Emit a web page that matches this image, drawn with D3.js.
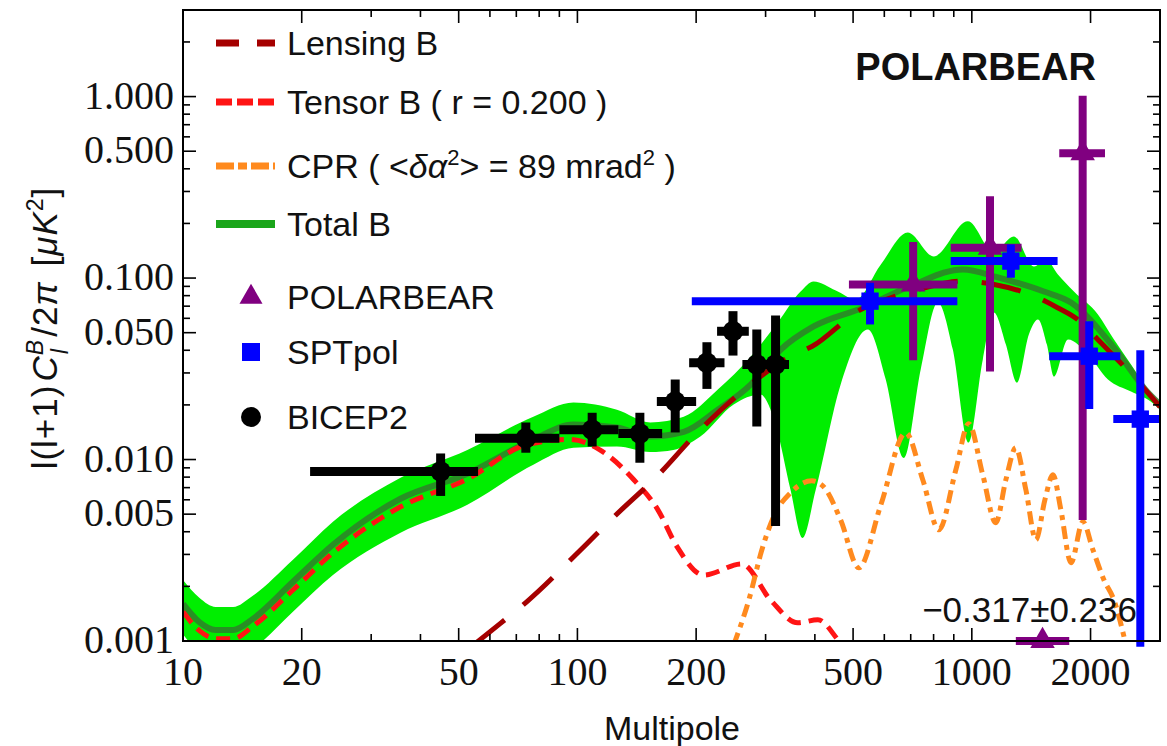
<!DOCTYPE html>
<meta charset="utf-8">
<style>
body { margin: 0; background: #fff; }
text { font-family: "Liberation Sans", Arial, sans-serif; fill: #111; }
.tk { font-family: "Liberation Serif", "Times New Roman", serif; font-size: 40px; }
</style>
<svg width="1167" height="746"></svg>
<script src="https://d3js.org/d3.v7.min.js"></script>
<script>

// ---- data (multipole l, value in uK^2) ----
var tensorL = [10, 11.0, 12.1, 13.4, 15.0, 19.0, 24.0, 35.6, 52.6, 74.7, 96.0, 114, 139, 160, 179, 209, 261, 309, 362, 407, 460, 520];
var tensorV = [0.00145, 0.00114, 0.00103, 0.00103, 0.0012, 0.00191, 0.00306, 0.00549, 0.0078, 0.0121, 0.0129, 0.0113, 0.00774, 0.00528, 0.0033, 0.00231, 0.00266, 0.00168, 0.00126, 0.00131, 0.001, 0.0007];

var lensL = [54.5, 63.8, 74.5, 106, 124, 159, 201, 262, 347, 394, 523, 623, 757, 947, 1139, 1439, 1650, 1855, 2126, 2847, 3000];
var lensV = [0.00095, 0.00125, 0.00165, 0.00346, 0.00485, 0.00807, 0.0140, 0.0238, 0.0371, 0.0421, 0.0671, 0.0779, 0.0884, 0.0961, 0.0922, 0.0795, 0.0686, 0.0591, 0.0440, 0.0223, 0.0195];

var cprL = [249, 272, 295, 318, 347, 393, 421, 465, 517, 588, 680, 751, 825, 911, 982, 1066, 1150, 1220, 1293, 1371, 1454, 1532, 1606, 1682, 1784, 1912, 2028, 2163, 2293, 2460];
var cprV = [0.00095, 0.00168, 0.0033, 0.00509, 0.00656, 0.00764, 0.00708, 0.00465, 0.00253, 0.00563, 0.01405, 0.00774, 0.0041, 0.00878, 0.01576, 0.00824, 0.00448, 0.00774, 0.01162, 0.00681, 0.00361, 0.0060, 0.00824, 0.00528, 0.0027, 0.00454, 0.00318, 0.00217, 0.00168, 0.00095];

var totalL = [10, 11.0, 12.1, 13.4, 15.0, 19.0, 24.0, 35.6, 52.6, 77.3, 97.7, 126, 153, 186, 227, 275, 328, 397, 532, 713, 949, 1164, 1523, 1784, 2293, 2797, 3000];
var totalV = [0.0016, 0.00127, 0.00115, 0.00115, 0.00132, 0.00212, 0.00339, 0.00608, 0.00835, 0.0129, 0.0156, 0.0150, 0.0134, 0.0142, 0.0188, 0.0259, 0.0404, 0.0541, 0.0688, 0.0922, 0.1116, 0.1008, 0.0843, 0.0733, 0.0414, 0.0234, 0.0201];

var bandUpL = [10, 11.0, 12.1, 13.4, 15.0, 19.0, 24.0, 35.6, 52.6, 77.3, 97.7, 126, 153, 186, 227, 275, 322, 368, 397, 452, 508, 588, 688, 801, 977, 1137, 1278, 1437, 1541, 1653, 1815, 2088, 2293, 2533, 2847, 3000];
var bandUpV = [0.00217, 0.00173, 0.00154, 0.00154, 0.00177, 0.0028, 0.00454, 0.00794, 0.0113, 0.0172, 0.0206, 0.0188, 0.0160, 0.0172, 0.0243, 0.0369, 0.0569, 0.0843, 0.0958, 0.0854, 0.0762, 0.1189, 0.1785, 0.1316, 0.2053, 0.1385, 0.1697, 0.1159, 0.1267, 0.1047, 0.0843, 0.0630, 0.0458, 0.0334, 0.0228, 0.0206];

var bandLoL = [10, 11.0, 12.1, 13.4, 15.0, 19.0, 24.0, 35.6, 52.6, 77.3, 97.7, 126, 153, 175, 205, 249, 291, 318, 347, 372, 402, 465, 545, 605, 672, 742, 820, 895, 982, 1066, 1137, 1220, 1301, 1395, 1471, 1550, 1615, 1753, 1970, 2214, 2533, 2847, 3000];
var bandLoV = [0.00109, 0.00086, 0.00078, 0.00078, 0.0009, 0.00145, 0.00231, 0.00395, 0.00563, 0.00936, 0.0116, 0.0118, 0.0110, 0.0113, 0.0134, 0.0201, 0.0228, 0.0156, 0.00681, 0.0037, 0.00681, 0.0259, 0.0520, 0.0276, 0.0102, 0.0313, 0.0733, 0.0404, 0.0124, 0.0355, 0.0646, 0.0430, 0.0265, 0.0488, 0.0591, 0.0430, 0.0286, 0.0458, 0.0379, 0.0276, 0.0237, 0.0208, 0.0188];

var bicepL = [45, 74, 109, 144, 177, 213, 248, 285, 318];
var bicepV = [0.0086, 0.0131, 0.0146, 0.0139, 0.0209, 0.0341, 0.0509, 0.0334, 0.0334];
var bicepLo = [0.0063, 0.0109, 0.0118, 0.0096, 0.0141, 0.0245, 0.0374, 0.0152, 0.0043];
var bicepHi = [0.0108, 0.0160, 0.0181, 0.0181, 0.0276, 0.0443, 0.0657, 0.052, 0.0622];
var bicepBinLo = [21, 55, 90, 127, 159, 192, 226, 262, 303];
var bicepBinHi = [56, 90, 127, 164, 200, 236, 272, 303, 344];

var sptL = [552, 1256, 1985, 2674];
var sptV = [0.0746, 0.124, 0.0371, 0.0167];
var sptLo = [0.0555, 0.1004, 0.019, 0.00093];
var sptHi = [0.0942, 0.1532, 0.0578, 0.040];
var sptBinLo = [195, 884, 1571, 2284];
var sptBinHi = [919, 1650, 2379, 3000];

var pbL = [710, 1112, 1511, 1910];
var pbV = [0.0922, 0.147, 0.001, 0.487];
var pbLo = [0.0352, 0.0306, 0.001, 0.00465];
var pbHi = [0.158, 0.282, 0.001, 1.01];
var pbBinLo = [488, 884, 1293, 1666];
var pbBinHi = [919, 1337, 1766, 2176];

var xMajor = [10, 20, 50, 100, 200, 500, 1000, 2000];
var xMinor = [30, 40, 60, 70, 80, 90, 300, 400, 600, 700, 800, 900, 3000];
var yMajor = [0.001, 0.005, 0.01, 0.05, 0.1, 0.5, 1];
var yMajorText = ["0.001", "0.005", "0.010", "0.050", "0.100", "0.500", "1.000"];
var yMinor = [0.002, 0.003, 0.004, 0.006, 0.007, 0.008, 0.009, 0.02, 0.03, 0.04, 0.06, 0.07, 0.08, 0.09, 0.2, 0.3, 0.4, 0.6, 0.7, 0.8, 0.9, 2, 3];

// ---- layout ----
var svg = d3.select("svg"),
    pL = 183, pR = 1160, pT = 10, pB = 641;

var x = d3.scaleLog().domain([10, 3000]).range([pL, pR]);
var y = d3.scaleLog().domain([0.001, 3]).range([pB, pT]);

svg.append("rect").attr("width", 1167).attr("height", 746).attr("fill", "#fff");

svg.append("defs").append("clipPath").attr("id", "plotclip")
  .append("rect").attr("x", pL).attr("y", pT)
    .attr("width", pR - pL).attr("height", pB - pT);

var plot = svg.append("g").attr("clip-path", "url(#plotclip)");

function pts(ls, vs) {
  return ls.map(function(l, i) { return [x(l), y(vs[i])]; });
}
var line = d3.line().curve(d3.curveMonotoneX);

// band
var upPath = line(pts(bandUpL, bandUpV)),
    loPath = line(pts(bandLoL, bandLoV).reverse());
plot.append("path")
    .attr("d", upPath + "L" + loPath.slice(1) + "Z")
    .attr("fill", "#00ee00");

plot.append("path")
    .attr("d", line(pts(totalL, totalV)))
    .attr("fill", "none")
    .attr("stroke", "#2f7f2a")
    .attr("stroke-opacity", 0.85)
    .attr("stroke-width", 6);

plot.append("path")
    .attr("d", line(pts(tensorL, tensorV)))
    .attr("fill", "none")
    .attr("stroke", "#ff1414")
    .attr("stroke-width", 5)
    .attr("stroke-dasharray", "14,8");

plot.append("path")
    .attr("d", line(pts(lensL, lensV)))
    .attr("fill", "none")
    .attr("stroke", "#a50000")
    .attr("stroke-width", 5)
    .attr("stroke-dasharray", "40,24");

plot.append("path")
    .attr("d", line(pts(cprL, cprV)))
    .attr("fill", "none")
    .attr("stroke", "#ff8a1e")
    .attr("stroke-width", 5)
    .attr("stroke-dasharray", "13,6,5,6");

// data points with error bars
function points(ls, vs, lo, hi, b0, b1, color, symType, symSize, bw) {
  var g = svg.append("g");
  ls.forEach(function(l, i) {
    g.append("line")
        .attr("x1", x(b0[i])).attr("x2", Math.min(x(b1[i]), pR))
        .attr("y1", y(vs[i])).attr("y2", y(vs[i]))
        .attr("stroke", color).attr("stroke-width", bw);
    g.append("line")
        .attr("x1", x(l)).attr("x2", x(l))
        .attr("y1", y(lo[i])).attr("y2", y(hi[i]))
        .attr("stroke", color).attr("stroke-width", bw);
    g.append("path")
        .attr("d", d3.symbol().type(symType).size(symSize)())
        .attr("transform", "translate(" + x(l) + "," + y(vs[i]) + ")")
        .attr("fill", color);
  });
}
points(bicepL, bicepV, bicepLo, bicepHi, bicepBinLo, bicepBinHi, "#000", d3.symbolCircle, 330, 9);
points(pbL, pbV, pbLo, pbHi, pbBinLo, pbBinHi, "#800080", d3.symbolTriangle, 260, 8);
points(sptL, sptV, sptLo, sptHi, sptBinLo, sptBinHi, "#0000ff", d3.symbolSquare, 300, 8);

svg.append("text")
    .attr("x", 1137).attr("y", 622)
    .attr("text-anchor", "end")
    .style("font-size", "35px")
    .text("\u22120.317\u00b10.236");

// frame and ticks
var axes = svg.append("g").attr("stroke", "#000").attr("stroke-width", 1.6);
axes.append("rect")
    .attr("x", pL).attr("y", pT)
    .attr("width", pR - pL).attr("height", pB - pT)
    .attr("fill", "none").attr("stroke-width", 2);

function xticks(vals, len) {
  vals.forEach(function(v) {
    axes.append("line").attr("x1", x(v)).attr("x2", x(v)).attr("y1", pB).attr("y2", pB - len);
    axes.append("line").attr("x1", x(v)).attr("x2", x(v)).attr("y1", pT).attr("y2", pT + len);
  });
}
function yticks(vals, len) {
  vals.forEach(function(v) {
    axes.append("line").attr("x1", pL).attr("x2", pL + len).attr("y1", y(v)).attr("y2", y(v));
    axes.append("line").attr("x1", pR).attr("x2", pR - len).attr("y1", y(v)).attr("y2", y(v));
  });
}
xticks(xMajor, 13); xticks(xMinor, 7);
yticks(yMajor, 13); yticks(yMinor, 7);

svg.selectAll(".xl").data(xMajor).enter().append("text")
    .attr("class", "tk")
    .attr("x", function(d) { return x(d); })
    .attr("y", 685)
    .attr("text-anchor", "middle")
    .text(function(d) { return d; });

svg.selectAll(".yl").data(yMajor).enter().append("text")
    .attr("class", "tk")
    .attr("x", 174)
    .attr("y", function(d) { return y(d) + 12; })
    .attr("text-anchor", "end")
    .text(function(d, i) { return yMajorText[i]; });

svg.append("text")
    .attr("x", 672).attr("y", 740)
    .attr("text-anchor", "middle")
    .style("font-size", "34px")
    .text("Multipole");

// y label
var yl = svg.append("text")
    .attr("transform", "translate(57,328) rotate(-90)")
    .attr("text-anchor", "middle")
    .style("font-size", "35px")
    .style("letter-spacing", "1px");
yl.append("tspan").text("l(l+1)");
yl.append("tspan").style("font-style", "italic").attr("dx", 3).text("C");
yl.append("tspan").style("font-style", "italic").style("font-size", "23px").attr("dy", -14).text("B");
yl.append("tspan").style("font-style", "italic").style("font-size", "23px").attr("dx", -15).attr("dy", 25).text("l");
yl.append("tspan").attr("dy", -11).attr("dx", 11).text("/2");
yl.append("tspan").style("font-style", "italic").text("\u03c0");
yl.append("tspan").attr("dx", 4).text(" [");
yl.append("tspan").style("font-style", "italic").text("\u03bcK");
yl.append("tspan").style("font-size", "23px").attr("dy", -14).text("2");
yl.append("tspan").attr("dy", 14).text("]");

// title
svg.append("text")
    .attr("x", 1096).attr("y", 80)
    .attr("text-anchor", "end")
    .style("font-size", "38px").style("font-weight", "bold")
    .text("POLARBEAR");

// legend
var lg = svg.append("g").style("font-size", "34px");
var legLines = [
  {y: 43, color: "#a50000", dash: "23,18", w: 7},
  {y: 102, color: "#ff1414", dash: "16,5", w: 7},
  {y: 166, color: "#ff8a1e", dash: "18,4,9,4", w: 7},
  {y: 224, color: "#1aa51a", dash: null, w: 8}
];
legLines.forEach(function(d) {
  lg.append("line").attr("x1", 216).attr("x2", 275).attr("y1", d.y).attr("y2", d.y)
    .attr("stroke", d.color).attr("stroke-width", d.w)
    .attr("stroke-dasharray", d.dash);
});
lg.append("text").attr("x", 287).attr("y", 55).text("Lensing B");
lg.append("text").attr("x", 287).attr("y", 114).text("Tensor B ( r = 0.200 )");
var cpr = lg.append("text").attr("x", 287).attr("y", 178);
cpr.append("tspan").text("CPR ( <");
cpr.append("tspan").style("font-style", "italic").text("\u03b4\u03b1");
cpr.append("tspan").style("font-size", "22px").attr("dy", -13).text("2");
cpr.append("tspan").attr("dy", 13).text("> = 89 mrad");
cpr.append("tspan").style("font-size", "22px").attr("dy", -13).text("2");
cpr.append("tspan").attr("dy", 13).text(" )");
lg.append("text").attr("x", 287).attr("y", 236).text("Total B");

var legSyms = [
  {y: 297, color: "#800080", type: d3.symbolTriangle, size: 230, label: "POLARBEAR"},
  {y: 352, color: "#0000ff", type: d3.symbolSquare, size: 324, label: "SPTpol"},
  {y: 417, color: "#000", type: d3.symbolCircle, size: 314, label: "BICEP2"}
];
legSyms.forEach(function(d) {
  lg.append("path").attr("d", d3.symbol().type(d.type).size(d.size)())
    .attr("transform", "translate(251," + d.y + ")").attr("fill", d.color);
  lg.append("text").attr("x", 287).attr("y", d.y + 12).text(d.label);
});

</script>
